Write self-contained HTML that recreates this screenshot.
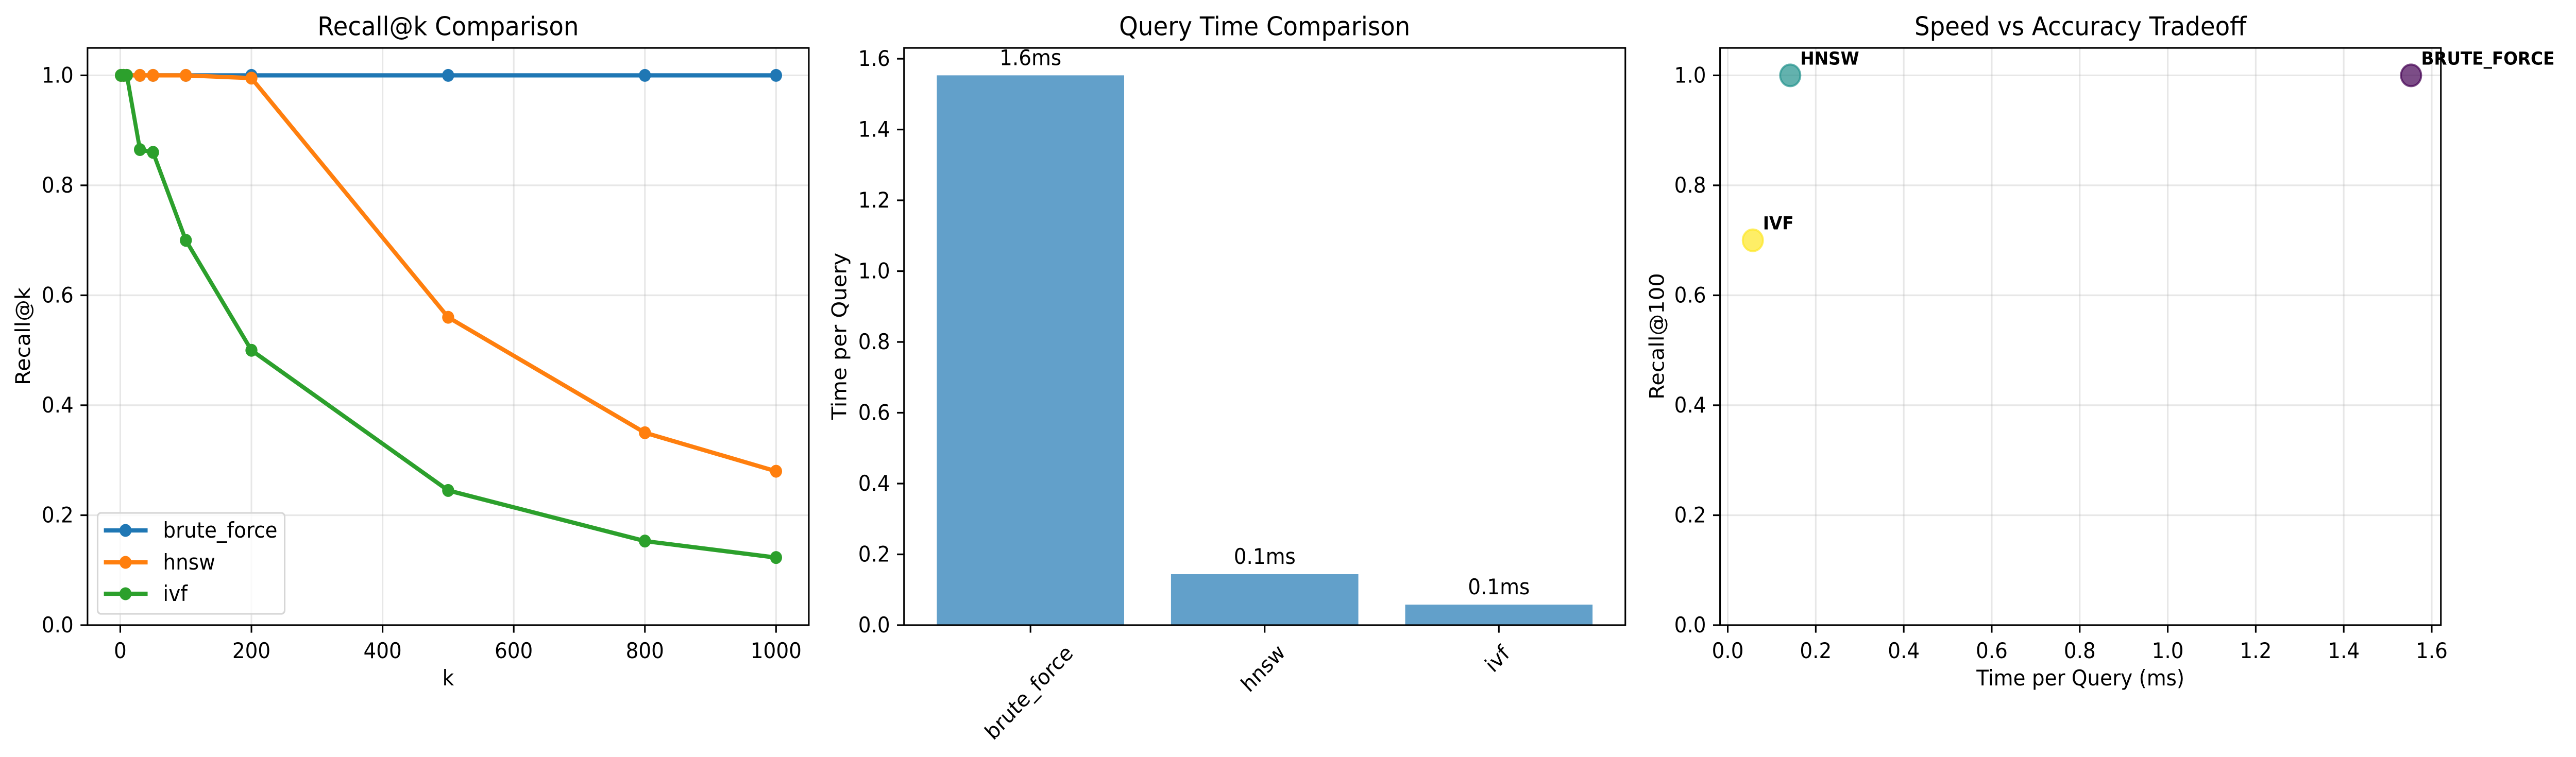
<!DOCTYPE html>
<html><head><meta charset="utf-8"><style>
html,body{margin:0;padding:0;background:#fff;width:100%;height:100%;overflow:hidden}
svg{display:block;width:100vw;height:100vh}
text{font-family:"DejaVu Sans","Liberation Sans",sans-serif;fill:#000}
</style></head><body>
<svg id="fig" viewBox="0 0 5357 1470" preserveAspectRatio="none" xmlns="http://www.w3.org/2000/svg"></svg>
<script>
// ---- Panel 1 data ----
const kValues = [1, 5, 10, 30, 50, 100, 200, 500, 800, 1000];
const recallBrute = [1, 1, 1, 1, 1, 1, 1, 1, 1, 1];
const recallHnsw = [1, 1, 1, 1, 1, 1, 0.995, 0.56, 0.35, 0.28];
const recallIvf = [1, 1, 1, 0.865, 0.86, 0.70, 0.50, 0.245, 0.153, 0.123];
const seriesNames = ["brute_force", "hnsw", "ivf"];
const xTicks1 = [0, 200, 400, 600, 800, 1000];
const yTicks = [0, 0.2, 0.4, 0.6, 0.8, 1.0];
// ---- Panel 2 data ----
const methods = ["brute_force", "hnsw", "ivf"];
const queryTimes = [1.553, 0.144, 0.058];
const barLabels = ["1.6ms", "0.1ms", "0.1ms"];
const yTicks2 = [0, 0.2, 0.4, 0.6, 0.8, 1.0, 1.2, 1.4, 1.6];
// ---- Panel 3 data ----
const scatterNames = ["BRUTE_FORCE", "HNSW", "IVF"];
const scatterTime = [1.553, 0.142, 0.057];
const scatterRecall = [1.0, 1.0, 0.70];
const xTicks3 = [0, 0.2, 0.4, 0.6, 0.8, 1.0, 1.2, 1.4, 1.6];

const NS = "http://www.w3.org/2000/svg";
const svg = document.getElementById("fig");
function mk(tag, attrs, parent, txt) {
  const e = document.createElementNS(NS, tag);
  for (const k in attrs) e.setAttribute(k, attrs[k]);
  if (txt !== undefined) e.textContent = txt;
  (parent || svg).appendChild(e);
  return e;
}
const TOP = 93, BOT = 1214, TICK = 14.6, FS = 41.7;
function fmt(v, d) { return v.toFixed(d); }

function axesFrame(L, R, g) {
  const r = mk("rect", {x: L, y: TOP, width: R - L, height: BOT - TOP, fill: "none", stroke: "#000", "stroke-width": 3.3}, g);
  
  
}
function yAxis(L, ticks, ys, dec, g, grid, R) {
  ticks.forEach(t => {
    const y = ys(t);
    if (grid) {
      const gl = mk("line", {x1: L, x2: R, y1: y, y2: y, stroke: "#b0b0b0", "stroke-opacity": 0.3, "stroke-width": 3.3}, g);
      
      
    }
    mk("line", {x1: L - TICK, x2: L, y1: y, y2: y, stroke: "#000", "stroke-width": 3.3}, g);
    const tx = mk("text", {x: L - 29, y: y, "font-size": FS, "text-anchor": "end", "dominant-baseline": "central"}, g, fmt(t, dec));
    
    
  });
}
function xAxis(ticks, xs, dec, g, grid) {
  ticks.forEach(t => {
    const x = xs(t);
    if (grid) {
      const gl = mk("line", {x1: x, x2: x, y1: TOP, y2: BOT, stroke: "#b0b0b0", "stroke-opacity": 0.3, "stroke-width": 3.3}, g);
      
      
    }
    mk("line", {x1: x, x2: x, y1: BOT, y2: BOT + TICK, stroke: "#000", "stroke-width": 3.3}, g);
    const tx = mk("text", {x: x, y: 1264, "font-size": FS, "text-anchor": "middle", "dominant-baseline": "central"}, g, fmt(t, dec));
    
    
  });
}
function title(cx, s, g) {
  const t = mk("text", {x: cx, y: 52, "font-size": 50, "text-anchor": "middle", "dominant-baseline": "central"}, g, s);
  
  
}
function ylabel(x, s, g) {
  const t = mk("text", {x: x, y: 653, "font-size": FS, "text-anchor": "middle", "dominant-baseline": "central", transform: `rotate(-90 ${x} 653)`}, g, s);
  
  
}
function xlabel(x, s, g) {
  const t = mk("text", {x: x, y: 1317, "font-size": FS, "text-anchor": "middle", "dominant-baseline": "central"}, g, s);
  
  
}

// ===== Panel 1 =====
(function () {
  const L = 182, R = 1682;
  const g = mk("g", {});
  
  
  const xs = v => L + (v + 49.95) / 1099.9 * (R - L);
  const ys = v => BOT - v / 1.05 * (BOT - TOP);
  yAxis(L, yTicks, ys, 1, g, true, R);
  xAxis(xTicks1, xs, 0, g, true);
  const colors = ["#1f77b4", "#ff7f0e", "#2ca02c"];
  const data = [recallBrute, recallHnsw, recallIvf];
  data.forEach((arr, si) => {
    const pts = kValues.map((k, i) => xs(k).toFixed(1) + "," + ys(arr[i]).toFixed(1)).join(" ");
    const pl = mk("polyline", {points: pts, fill: "none", stroke: colors[si], "stroke-width": 8.3, "stroke-linejoin": "round"}, g);
    
    
    kValues.forEach((k, i) => {
      const c = mk("circle", {cx: xs(k), cy: ys(arr[i]), r: 12.5, fill: colors[si]}, g);
      
      
    });
  });
  axesFrame(L, R, g);
  title((L + R) / 2, "Recall@k Comparison", g);
  ylabel(48, "Recall@k", g);
  xlabel((L + R) / 2, "k", g);
  const lg = mk("g", {}, g);
  
  
  mk("rect", {x: 203, y: 996, width: 389, height: 196, rx: 7, fill: "#fff", "fill-opacity": 0.8, stroke: "#d6d6d6", "stroke-width": 3.3}, lg);
  const ly = [1030, 1092, 1153];
  seriesNames.forEach((n, i) => {
    const e = mk("g", {}, lg);
    
    
    mk("line", {x1: 216, x2: 307, y1: ly[i], y2: ly[i], stroke: colors[i], "stroke-width": 8.3}, e);
    mk("circle", {cx: 261, cy: ly[i], r: 12.5, fill: colors[i]}, e);
    mk("text", {x: 339, y: ly[i], "font-size": FS, "dominant-baseline": "central"}, e, n);
  });
})();

// ===== Panel 2 =====
(function () {
  const L = 1880, R = 3380;
  const g = mk("g", {});
  
  
  const xs = i => L + (i + 0.54) / 3.08 * (R - L);
  const ys = v => BOT - v / 1.6306 * (BOT - TOP);
  yAxis(L, yTicks2, ys, 1, g, false, R);
  const bw = 0.8 / 3.08 * (R - L);
  const labelY = [1345, 1298, 1280];
  methods.forEach((m, i) => {
    const b = mk("rect", {x: xs(i) - bw / 2, y: ys(queryTimes[i]), width: bw, height: BOT - ys(queryTimes[i]), fill: "#1f77b4", "fill-opacity": 0.7}, g);
    
    
    const vl = mk("text", {x: xs(i), y: ys(queryTimes[i]) - 20, "font-size": FS, "text-anchor": "middle"}, g, barLabels[i]);
    
    
    mk("line", {x1: xs(i), x2: xs(i), y1: BOT, y2: BOT + TICK, stroke: "#000", "stroke-width": 3.3}, g);
    const cx = xs(i) - 3, cy = labelY[i];
    const tl = mk("text", {x: cx, y: cy, "font-size": FS, "text-anchor": "middle", "dominant-baseline": "central", transform: `rotate(-45 ${cx} ${cy})`}, g, m);
    
    
  });
  axesFrame(L, R, g);
  title((L + R) / 2, "Query Time Comparison", g);
  ylabel(1746, "Time per Query", g);
})();

// ===== Panel 3 =====
(function () {
  const L = 3577, R = 5076;
  const g = mk("g", {});
  
  
  const xs = v => 3593 + v * 915;
  const ys = v => BOT - v / 1.05 * (BOT - TOP);
  yAxis(L, yTicks, ys, 1, g, true, R);
  xAxis(xTicks3, xs, 1, g, true);
  const fills = ["#440154", "#21918c", "#fde725"];
  scatterNames.forEach((n, i) => {
    const c = mk("circle", {cx: xs(scatterTime[i]), cy: ys(scatterRecall[i]), r: 21, fill: fills[i], "fill-opacity": 0.7, stroke: fills[i], "stroke-opacity": 0.7, "stroke-width": 4}, g);
    
    
    const t = mk("text", {x: xs(scatterTime[i]) + 21, y: ys(scatterRecall[i]) - 21, "font-size": 35, "font-weight": "bold"}, g, n);
    
    
  });
  axesFrame(L, R, g);
  title((L + R) / 2, "Speed vs Accuracy Tradeoff", g);
  ylabel(3446, "Recall@100", g);
  xlabel((L + R) / 2, "Time per Query (ms)", g);
})();
</script>
</body></html>
